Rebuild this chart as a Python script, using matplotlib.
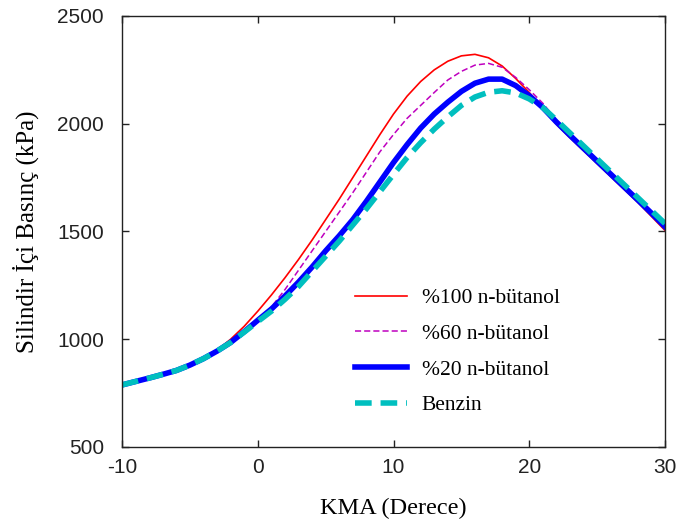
import matplotlib
matplotlib.use("Agg")
import matplotlib.pyplot as plt

plt.rcParams['axes.unicode_minus'] = False

# Krank mili açısı (derece)
kma = list(range(-10, 31))

# Silindir içi basınç (kPa)
p_but100 = [788, 804, 820, 837, 855, 880, 910, 950, 1000, 1060,
            1130, 1205, 1285, 1370, 1460, 1555, 1650, 1750, 1850, 1950,
            2045, 2128, 2196, 2250, 2290, 2315, 2322, 2306, 2268, 2210,
            2145, 2072, 1998, 1935, 1875, 1815, 1755, 1695, 1635, 1570,
            1505]
p_but60 = [788, 804, 820, 837, 855, 880, 910, 945, 985, 1035,
           1090, 1150, 1230, 1320, 1410, 1500, 1590, 1680, 1775, 1870,
           1950, 2025, 2085, 2145, 2203, 2243, 2272, 2280, 2262, 2215,
           2158, 2095, 2018, 1952, 1888, 1826, 1765, 1702, 1640, 1580,
           1515]
p_but20 = [788, 804, 820, 837, 855, 880, 910, 945, 985, 1035,
           1088, 1140, 1200, 1265, 1335, 1410, 1480, 1555, 1640, 1730,
           1820, 1903, 1980, 2045, 2100, 2150, 2188, 2207, 2207, 2177,
           2130, 2075, 2008, 1946, 1886, 1826, 1766, 1706, 1646, 1585,
           1522]
p_benzin = [788, 804, 820, 837, 855, 880, 910, 945, 985, 1033,
            1082, 1130, 1185, 1245, 1315, 1385, 1455, 1530, 1605, 1685,
            1765, 1843, 1912, 1975, 2032, 2085, 2124, 2146, 2153, 2143,
            2115, 2075, 2017, 1957, 1897, 1837, 1777, 1717, 1657, 1597,
            1537]

etiketler = ['%100 n-bütanol', '%60 n-bütanol', '%20 n-bütanol', 'Benzin']

fig = plt.figure(figsize=(6.79, 5.31), dpi=100)
ax = fig.add_axes([0.1797, 0.1582, 0.7997, 0.8117])

ax.plot(kma, p_but100, color='#FF0000', linewidth=1.2, label=etiketler[0])
ax.plot(kma, p_but60, color='#BF00BF', linewidth=1.1, dashes=(4, 2), label=etiketler[1])
ax.plot(kma, p_but20, color='#0000FF', linewidth=4.0, label=etiketler[2])
ax.plot(kma, p_benzin, color='#00BFBF', linewidth=4.0, dashes=(3, 1.6),
        dash_capstyle='butt', label=etiketler[3])

ax.set_xlim(-10, 30)
ax.set_ylim(500, 2500)
ax.set_xticks([-10, 0, 10, 20, 30])
ax.set_yticks([500, 1000, 1500, 2000, 2500])

ax.tick_params(direction='in', length=5, width=1, top=True, right=True,
               labelsize=15, colors='#222222')
ax.tick_params(axis='y', pad=13)
ax.tick_params(axis='x', pad=8)
for lab in ax.get_xticklabels() + ax.get_yticklabels():
    lab.set_family('Liberation Sans')
for sp in ax.spines.values():
    sp.set_linewidth(1.0)
    sp.set_color('#222222')

ax.set_xlabel('KMA (Derece)', family='Liberation Serif', fontsize=17.5, labelpad=15)
ax.set_ylabel('Silindir İçi Basınç (kPa)', family='Liberation Serif', fontsize=18, labelpad=13)

ax.legend(loc='upper left', bbox_to_anchor=(0.429, 0.368), frameon=False,
          prop={'family': 'Liberation Serif', 'size': 15.5},
          handlelength=2.4, handletextpad=0.7, labelspacing=0.72,
          borderpad=0, borderaxespad=0)

fig.savefig('out.png', dpi=100)
